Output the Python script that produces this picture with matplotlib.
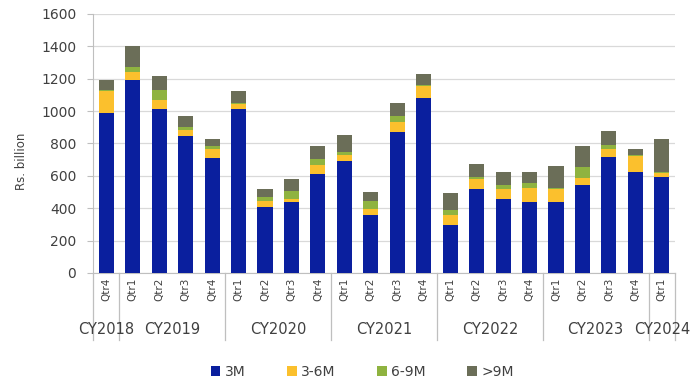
import matplotlib
matplotlib.use("Agg")
import matplotlib.pyplot as plt
from matplotlib.lines import Line2D
import numpy as np

# quarterly issuance split by maturity bucket, Rs. billion
quarters = ["Qtr4",
            "Qtr1", "Qtr2", "Qtr3", "Qtr4",
            "Qtr1", "Qtr2", "Qtr3", "Qtr4",
            "Qtr1", "Qtr2", "Qtr3", "Qtr4",
            "Qtr1", "Qtr2", "Qtr3", "Qtr4",
            "Qtr1", "Qtr2", "Qtr3", "Qtr4",
            "Qtr1"]
years = ["CY2018", "CY2019", "CY2020", "CY2021", "CY2022", "CY2023", "CY2024"]
year_counts = [1, 4, 4, 4, 4, 4, 1]

m3 = [988, 1192, 1013, 848, 710, 1013, 408, 437, 612, 690, 358, 873, 1079,
      296, 519, 457, 439, 441, 542, 719, 626, 595]
m3_6 = [138, 52, 58, 37, 58, 29, 35, 22, 55, 41, 39, 62, 78,
        60, 64, 62, 86, 76, 45, 47, 97, 23]
m6_9 = [7, 26, 57, 17, 18, 10, 26, 45, 35, 16, 48, 35, 4,
        31, 8, 25, 31, 8, 68, 27, 6, 4]
m9_plus = [57, 130, 89, 68, 44, 74, 48, 77, 80, 103, 55, 78, 70,
           109, 80, 78, 66, 138, 129, 84, 39, 204]

series = [("3M", m3, "#0a1f9e"),
          ("3-6M", m3_6, "#fbc02d"),
          ("6-9M", m6_9, "#8fb340"),
          (">9M", m9_plus, "#6b6e58")]

fig = plt.figure(figsize=(6.91, 3.78), dpi=100)
ax = fig.add_axes([0.1346, 0.2778, 0.8423, 0.6852])

x = np.arange(len(quarters))
bottom = np.zeros(len(quarters))
for name, vals, col in series:
    ax.bar(x, vals, 0.57, bottom=bottom, color=col, label=name, zorder=3)
    bottom += np.array(vals)

ax.set_xlim(-0.5, len(quarters) - 0.5)
ax.set_ylim(0, 1600)
ax.set_yticks(range(0, 1601, 200))
ax.tick_params(axis="y", labelsize=10, colors="#404040", length=4, pad=8,
               color="#bfbfbf")
ax.grid(axis="y", color="#d9d9d9", linewidth=0.9, zorder=0)

ax.set_xticks(x)
ax.set_xticklabels(quarters, rotation=90, fontsize=7.5, color="#404040")
ax.tick_params(axis="x", length=0, pad=3)

for side in ["top", "right"]:
    ax.spines[side].set_visible(False)
ax.spines["left"].set_color("#bfbfbf")
ax.spines["bottom"].set_color("#bfbfbf")

ax.set_ylabel("Rs. billion", fontsize=8.5, color="#404040")
ax.yaxis.set_label_coords(-0.112, 0.43)

# year groups under the quarter labels
trans = ax.get_xaxis_transform()
start = -0.5
edges = [start]
for yr, n in zip(years, year_counts):
    mid = start + n / 2
    ax.text(mid, -0.22, yr, transform=trans, ha="center", va="center",
            fontsize=10.5, color="#404040")
    start += n
    edges.append(start)
for e in edges:
    ax.add_line(Line2D([e, e], [0, -0.26], transform=trans, color="#bfbfbf",
                       linewidth=0.9, clip_on=False))

fig.legend(loc="center", bbox_to_anchor=(0.524, 0.016), ncol=4, frameon=False,
           fontsize=10, handlelength=0.7, handleheight=0.7, handletextpad=0.3,
           columnspacing=3.0, labelcolor="#404040")

fig.savefig("out.png", dpi=100)
